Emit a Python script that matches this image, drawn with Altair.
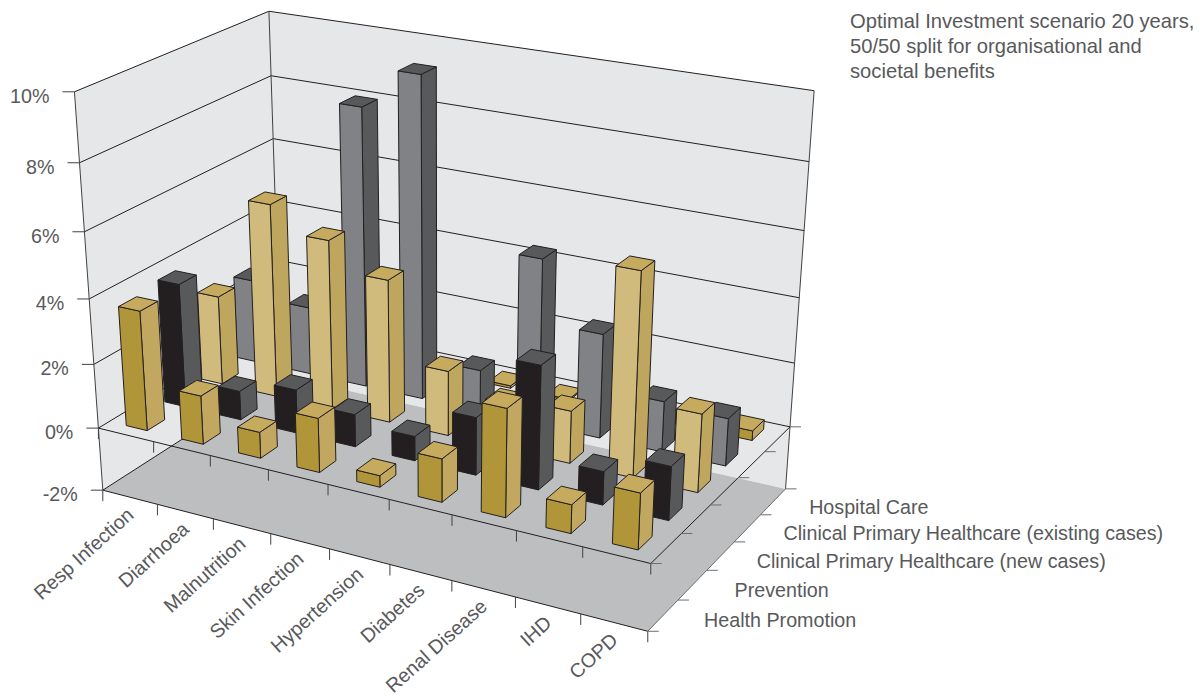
import altair as alt
import numpy as np

categories = ["Resp Infection", "Diarrhoea", "Malnutrition", "Skin Infection", "Hypertension",
              "Diabetes", "Renal Disease", "IHD", "COPD"]
series_names = ["Health Promotion", "Prevention", "Clinical Primary Healthcare (new cases)",
                "Clinical Primary Healthcare (existing cases)", "Hospital Care"]

# Share of spending, in percent, one list per series in category order
health_promotion = [3.7, 1.5, 0.8, 1.65, 0.35, 1.3, 3.2, 0.85, 1.65]
prevention = [3.85, 0.9, 1.35, 1.0, 0.75, 1.75, 3.7, 1.0, 1.6]
new_cases = [2.8, 6.0, 5.25, 4.4, 2.0, 1.4, 1.6, 6.1, 2.35]
existing_cases = [2.65, 2.15, 8.65, 9.87, 1.3, 5.1, 3.2, 1.55, 1.45]
hospital_care = [0.1, 0.1, 0.1, 0.1, 0.08, 0.05, 0.1, 0.1, 0.3]
series_values = [health_promotion, prevention, new_cases, existing_cases, hospital_care]

value_ticks = [-2, 0, 2, 4, 6, 8, 10]

note_lines = ["Optimal Investment scenario 20 years,", "50/50 split for organisational and", "societal benefits"]

# Face colours (front, side, top) per series
GOLD = ("#b09638", "#c1a760", "#c6ab5f")
BLACK = ("#231f20", "#58595b", "#58595b")
TAN = ("#d1bb7c", "#bfa65f", "#c6ab5f")
GREY = ("#808285", "#58595b", "#58595b")
series_colours = [GOLD, BLACK, TAN, GREY, GOLD]

WALL = "#e6e7e8"
FLOOR = "#bcbec0"
INK = "#231f20"
TEXT = "#58595b"
FONT = "Liberation Sans"
W, H = 1202, 698

# Camera calibration: box position (across, depth, percent) -> page pixel
box_points = [(0, 0, 10), (0, 0, 0), (0, 0, -2), (0, 1, 10), (0, 1, 0), (0, 1, -2),
              (1, 1, 10), (1, 1, 0), (1, 1, -2), (1, 0, 0), (1, 0, -2)]
page_points = [(74.7, 91.3), (99.3, 429.3), (102, 489), (268.7, 11), (279, 320), (281, 375),
               (814, 91), (790, 427), (786, 488), (650.7, 563.3), (647.5, 632)]
rows = []
rhs = []
for (a, b, c), (u, v) in zip(box_points, page_points):
    rows.append([a, b, c, 1, 0, 0, 0, 0, -u * a, -u * b, -u * c])
    rhs.append(u)
    rows.append([0, 0, 0, 0, a, b, c, 1, -v * a, -v * b, -v * c])
    rhs.append(v)
m = np.linalg.lstsq(np.array(rows, float), np.array(rhs, float), rcond=None)[0]
P = np.append(m, 1).reshape(3, 4)


def project(a, b, c):
    p = P @ np.array([a, b, c, 1.0])
    return [float(p[0] / p[2]), float(p[1] / p[2])]


def polygon(corners, fill, stroke=None, width=0.0):
    ring = [project(*c) for c in corners]
    ring.append(ring[0])
    return {"type": "Feature", "geometry": {"type": "Polygon", "coordinates": [ring]},
            "properties": {"fill": fill, "stroke": stroke or fill, "sw": width}}


def segment(start, end, colour=INK, width=1.0):
    return {"type": "Feature", "geometry": {"type": "LineString", "coordinates": [start, end]},
            "properties": {"stroke": colour, "sw": width}}


def edge(p, q, colour=INK, width=1.0):
    return segment(project(*p), project(*q), colour, width)


# Walls and floor
surfaces = [
    polygon([(0, 0, 10), (0, 1, 10), (0, 1, -2), (0, 0, -2)], WALL),
    polygon([(0, 1, 10), (1, 1, 10), (1, 1, -2), (0, 1, -2)], WALL),
    polygon([(0, 0, -2), (1, 0, -2), (1, 1, -2), (0, 1, -2)], FLOOR),
]

# Gridlines, box edges and tick marks
lines = []
for t in value_ticks:
    if t > -2:
        lines.append(edge((0, 0, t), (0, 1, t)))
        lines.append(edge((0, 1, t), (1, 1, t)))
    else:
        lines.append(edge((0, 0, t), (0, 1, t)))
    x0, y0 = project(0, 0, t)
    lines.append(segment([x0 - 12, y0], [x0, y0], "#414042"))
lines.append(edge((0, 0, 10), (0, 0, -2), "#414042"))
lines.append(edge((0, 1, 10), (0, 1, -2), "#414042"))
lines.append(edge((1, 1, 10), (1, 1, -2), "#414042"))
for level in (0, -2):
    lines.append(edge((0, 0, level), (1, 0, level)))
    lines.append(edge((1, 0, level), (1, 1, level), INK if level == 0 else "#6d6e71"))
    for i in range(len(categories) + 1):
        x0, y0 = project(i / len(categories), 0, level)
        lines.append(segment([x0, y0], [x0, y0 + 11], "#414042"))
    for r in range(len(series_names) + 1):
        x0, y0 = project(1, r / len(series_names), level)
        lines.append(segment([x0, y0], [x0 + 11, y0], "#6d6e71"))

# Bars, painted from the back row forward and from left to right
BAR_WIDTH = 0.38
BAR_DEPTH = 0.45
bars = []
n_cat, n_ser = len(categories), len(series_names)
for r in range(n_ser - 1, -1, -1):
    front, side, top = series_colours[r]
    z0 = (r + 0.5 - BAR_DEPTH / 2) / n_ser
    z1 = (r + 0.5 + BAR_DEPTH / 2) / n_ser
    for i in range(n_cat):
        v = series_values[r][i]
        x0 = (i + 0.5 - BAR_WIDTH / 2) / n_cat
        x1 = (i + 0.5 + BAR_WIDTH / 2) / n_cat
        bars.append(polygon([(x1, z0, 0), (x1, z1, 0), (x1, z1, v), (x1, z0, v)], side, INK, 1))
        bars.append(polygon([(x0, z0, 0), (x1, z0, 0), (x1, z0, v), (x0, z0, v)], front, INK, 1))
        bars.append(polygon([(x0, z0, v), (x1, z0, v), (x1, z1, v), (x0, z1, v)], top, INK, 1))

# Text placed from the same camera
value_labels = []
for t in value_ticks:
    x0, y0 = project(0, 0, t)
    value_labels.append({"label": f"{t}%", "x": x0 - 25, "y": y0 + 5})
category_labels = []
for i, name in enumerate(categories):
    x0, y0 = project((i + 0.5) / n_cat, 0, -2)
    category_labels.append({"label": name, "x": x0 + 1, "y": y0 + 15})
series_nudge = [0, 1, -5, -5, -5]
series_labels = []
for r, name in enumerate(series_names):
    x0, y0 = project(1, (r + 0.5) / n_ser, -2)
    series_labels.append({"label": name, "x": x0 + 41 + series_nudge[r], "y": y0 + 6})
note_labels = [{"label": s, "x": 850, "y": 22 + 25 * k} for k, s in enumerate(note_lines)]

x_enc = alt.X("x:Q", scale=alt.Scale(domain=[0, W], nice=False, zero=False), axis=None)
y_enc = alt.Y("y:Q", scale=alt.Scale(domain=[H, 0], nice=False, zero=False), axis=None)


def shapes(features, **mark):
    return (
        alt.Chart(alt.Data(values=features))
        .mark_geoshape(**mark)
        .encode(
            stroke=alt.Stroke("properties.stroke:N", scale=None),
            strokeWidth=alt.StrokeWidth("properties.sw:Q", scale=None),
        )
        .project(type="identity", scale=1, translate=[0, 0])
    )


def texts(rows_, size=19.7, **mark):
    return (
        alt.Chart(alt.Data(values=rows_))
        .mark_text(font=FONT, fontSize=size, color=TEXT, **mark)
        .encode(x=x_enc, y=y_enc, text="label:N")
    )


surface_layer = shapes(surfaces).encode(fill=alt.Fill("properties.fill:N", scale=None))
line_layer = shapes(lines, filled=False, fill="transparent")
bar_layer = shapes(bars, strokeJoin="round").encode(fill=alt.Fill("properties.fill:N", scale=None))

chart = (
    alt.layer(
        surface_layer,
        line_layer,
        bar_layer,
        texts(value_labels, align="right"),
        texts(category_labels, align="right", angle=318),
        texts(series_labels, align="left"),
        texts(note_labels, size=20.2, align="left"),
    )
    .resolve_scale(x="shared", y="shared")
    .properties(width=W, height=H, padding=0, autosize=alt.AutoSizeParams(type="none"), background="white")
    .configure_view(stroke=None)
)

chart.save("out.html", embed_options={"renderer": "svg", "actions": False})
